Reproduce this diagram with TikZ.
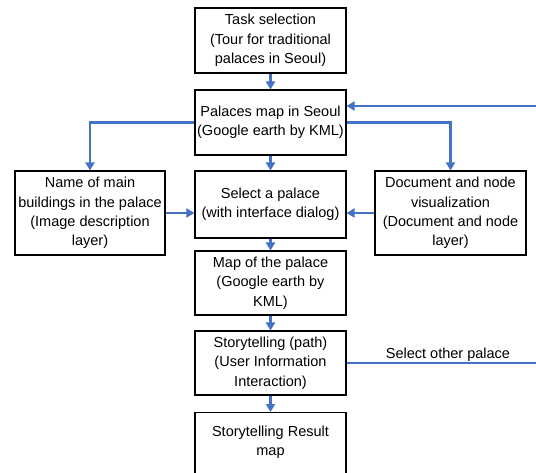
\documentclass[tikz,border=0pt]{standalone}
\usepackage{fontspec}
\setmainfont{Liberation Sans}
\usetikzlibrary{arrows.meta}
\definecolor{flowblue}{RGB}{68,114,196}
\tikzset{
  box/.style={draw=black, line width=1.1pt, fill=white, align=center, inner sep=1pt,
    font=\fontsize{14.5}{19.3}\selectfont},
  flow/.style={draw=flowblue, line width=2.2pt, -{Triangle[length=8pt,width=9pt]}},
  thinflow/.style={draw=flowblue, line width=1.3pt},
  lbl/.style={font=\fontsize{14.5}{19.3}\selectfont, inner sep=0pt}
}
\begin{document}
\begin{tikzpicture}[x=1pt,y=-1pt]
\useasboundingbox (0,0) rectangle (536,473);
\clip (0,0) rectangle (536,473);
\node[box, minimum width=151pt, minimum height=65pt] (task) at (270.5,40.5)
  {Task selection\\(Tour for traditional\\palaces in Seoul)};
\node[box, minimum width=151pt, minimum height=65pt] (palaces) at (270.5,122.5)
  {Palaces map in Seoul\\(Google earth by KML)};
\node[box, minimum width=150pt, minimum height=84pt] (name) at (90,213)
  {Name of main\\buildings in the palace\\(Image description\\layer)};
\node[box, minimum width=151pt, minimum height=67pt] (select) at (270.5,204.5)
  {Select a palace\\(with interface dialog)};
\node[box, minimum width=151pt, minimum height=84pt] (doc) at (450.5,213)
  {Document and node\\visualization\\(Document and node\\layer)};
\node[box, minimum width=151pt, minimum height=64pt] (map) at (270.5,283)
  {Map of the palace\\(Google earth by\\KML)};
\node[box, minimum width=151pt, minimum height=64pt] (story) at (270.5,363)
  {Storytelling (path)\\(User Information\\Interaction)};
\node[box, minimum width=151pt, minimum height=68pt, anchor=north] (result) at (270.5,412) {};
\node[lbl, align=center] (resulttext) at (270.5,442.5)
  {Storytelling Result\\map};
\node[lbl, anchor=base] (seltext) at (448,359) {Select other palace};
\coordinate (fb1) at (548,363);
\coordinate (fb2) at (548,106);
\draw[flow] (task.south) -- (palaces.north);
\draw[flow] (palaces.south) -- (select.north);
\draw[flow] (select.south) -- (map.north);
\draw[flow] (map.south) -- (story.north);
\draw[flow] (story.south) -- (result.north);
\draw[flow] (palaces.west) -| (name.north);
\draw[flow] (palaces.east) -| (doc.north);
\draw[flow] (name.east) -- (select.west |- name.east);
\draw[flow] (doc.west) -- (select.east |- doc.west);
\draw[thinflow] (story.east) -- (fb1);
\draw[flow] (fb1) -- (fb2) -- (palaces.east |- fb2);
\end{tikzpicture}
\end{document}
